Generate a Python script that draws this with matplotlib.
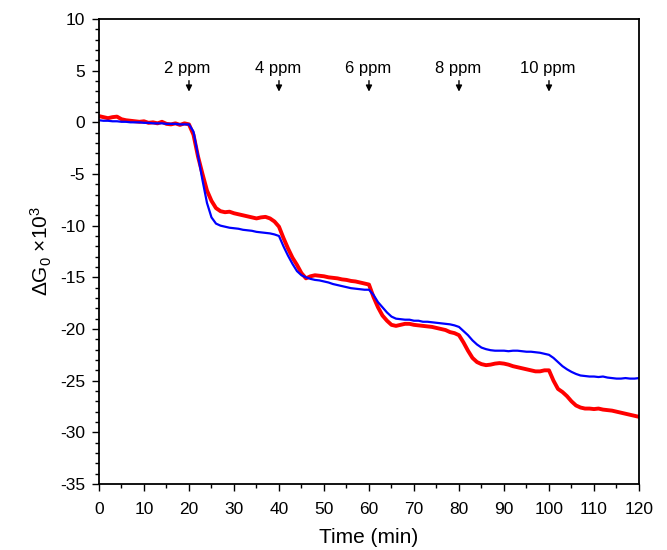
import numpy as np
import matplotlib
matplotlib.use("Agg")
import matplotlib.pyplot as plt
from matplotlib.ticker import MultipleLocator

plt.rcParams['font.family'] = ['Liberation Sans', 'DejaVu Sans']
plt.rcParams['mathtext.fontset'] = 'custom'
plt.rcParams['mathtext.rm'] = 'Liberation Sans'
plt.rcParams['mathtext.it'] = 'Liberation Sans'
plt.rcParams['axes.unicode_minus'] = False

# time axis, one reading per minute
time_min = list(range(0, 121))

# blue trace
blue_vals = [
    0.2, 0.15, 0.15, 0.1, 0.1, 0.05, 0.05, 0.0, 0.0, 0.0,
    -0.05, -0.05, -0.1, -0.1, -0.1, -0.15, -0.15, -0.15, -0.2, -0.2,
    -0.2, -0.9, -3.2, -5.6, -7.8, -9.2, -9.8, -10.0, -10.1, -10.2,
    -10.25, -10.3, -10.4, -10.45, -10.5, -10.6, -10.65, -10.7, -10.75, -10.85,
    -11.0, -12.0, -12.9, -13.7, -14.4, -14.8, -15.0, -15.15, -15.25, -15.3,
    -15.4, -15.5, -15.65, -15.75, -15.85, -15.95, -16.05, -16.1, -16.15, -16.2,
    -16.2, -16.7, -17.4, -17.9, -18.4, -18.8, -19.0, -19.05, -19.1, -19.1,
    -19.2, -19.2, -19.3, -19.3, -19.35, -19.4, -19.45, -19.5, -19.55, -19.65,
    -19.8, -20.2, -20.6, -21.1, -21.5, -21.8, -21.95, -22.05, -22.1, -22.1,
    -22.1, -22.15, -22.1, -22.1, -22.15, -22.2, -22.2, -22.25, -22.3, -22.4,
    -22.5, -22.8, -23.2, -23.6, -23.9, -24.15, -24.35, -24.5, -24.55, -24.6,
    -24.6, -24.65, -24.6, -24.7, -24.75, -24.8, -24.8, -24.75, -24.8, -24.8,
    -24.75,
]

# red trace
red_vals = [
    0.6, 0.5, 0.4, 0.5, 0.55, 0.3, 0.2, 0.15, 0.1, 0.05,
    0.1, -0.05, 0.0, -0.1, 0.05, -0.15, -0.2, -0.1, -0.25, -0.1,
    -0.2, -1.2, -3.3, -5.0, -6.6, -7.6, -8.3, -8.6, -8.7, -8.65,
    -8.8, -8.9, -9.0, -9.1, -9.2, -9.3, -9.2, -9.15, -9.3, -9.6,
    -10.1, -11.2, -12.2, -13.1, -13.8, -14.6, -15.1, -14.9, -14.8, -14.85,
    -14.9, -15.0, -15.05, -15.1, -15.2, -15.25, -15.35, -15.4, -15.5, -15.6,
    -15.7, -16.9, -17.9, -18.7, -19.2, -19.6, -19.7, -19.6, -19.5, -19.5,
    -19.6, -19.65, -19.7, -19.75, -19.8, -19.9, -20.0, -20.1, -20.3, -20.4,
    -20.6, -21.3, -22.1, -22.8, -23.2, -23.4, -23.5, -23.45, -23.35, -23.3,
    -23.35, -23.45, -23.6, -23.7, -23.8, -23.9, -24.0, -24.1, -24.1, -24.0,
    -24.0, -25.0, -25.8, -26.1, -26.5, -27.0, -27.4, -27.6, -27.7, -27.7,
    -27.75, -27.7, -27.8, -27.85, -27.9, -28.0, -28.1, -28.2, -28.3, -28.4,
    -28.5,
]

# gas injections
inject_times = [20, 40, 60, 80, 100]
inject_labels = ['2 ppm', '4 ppm', '6 ppm', '8 ppm', '10 ppm']

fig = plt.figure(figsize=(6.67, 5.5), dpi=100)
ax = fig.add_axes([0.1484, 0.12, 0.8096, 0.8455])

ax.plot(time_min, red_vals, color='#ff0000', lw=2.8)
ax.plot(time_min, blue_vals, color='#0000ff', lw=1.6)

for t, lab in zip(inject_times, inject_labels):
    ax.annotate('', xy=(t, 2.7), xytext=(t, 4.3),
                arrowprops=dict(arrowstyle='-|>', color='black', lw=1,
                                mutation_scale=9))
    ax.text(t - 0.3, 5.2, lab, ha='center', va='center', fontsize=12)

ax.set_xlim(0, 120)
ax.set_ylim(-35, 10)
ax.xaxis.set_major_locator(MultipleLocator(10))
ax.xaxis.set_minor_locator(MultipleLocator(5))
ax.yaxis.set_major_locator(MultipleLocator(5))
ax.yaxis.set_minor_locator(MultipleLocator(1))
ax.tick_params(which='both', direction='out', labelsize=12.5, width=1)
ax.tick_params(which='major', length=5)
ax.tick_params(which='minor', length=3)
ax.tick_params(axis='x', pad=8)
ax.tick_params(axis='y', pad=5)
for s in ax.spines.values():
    s.set_linewidth(1.3)

ax.set_xlabel('Time (min)', fontsize=15, labelpad=8)
ax.set_ylabel(r'$\Delta$G$_0$ $\times$10$^3$', fontsize=15, labelpad=4)

fig.savefig('out.png', dpi=100)
